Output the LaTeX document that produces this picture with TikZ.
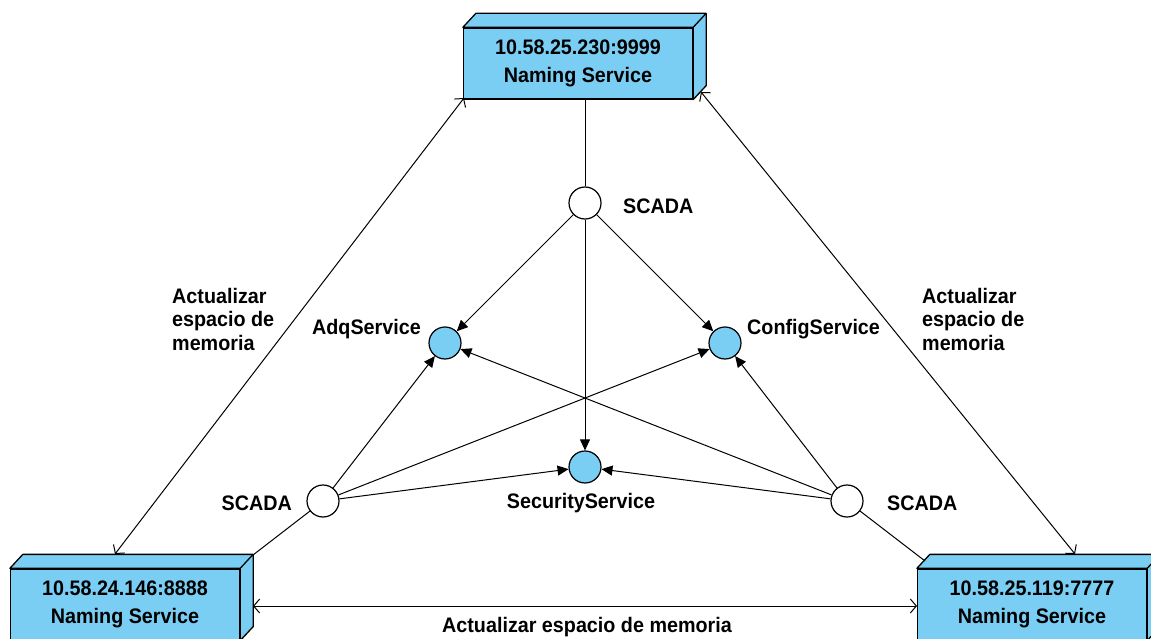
\documentclass[tikz,border=0pt]{standalone}
\usepackage{fontspec}
\setmainfont[FakeStretch=0.94]{Liberation Sans}
\usetikzlibrary{arrows.meta}
\definecolor{boxblue}{RGB}{122,206,244}
\newcommand{\namingbox}[4]{%
  \node[boxface] (#1) at (#2,#3) {#4};
  \draw[boxedge, fill=boxblue] (#1.north west) -- ++(13,-14) -- ([shift={(13,-14)}]#1.north east) -- ([shift={(13,-14)}]#1.south east) -- (#1.south east) -- (#1.north east) -- cycle;
  \draw[boxedge] (#1.north east) -- ++(13,-14);
}
\begin{document}
\begin{tikzpicture}[x=1pt,y=-1pt,
  lbl/.style={font=\fontsize{21}{23.5}\selectfont\bfseries, inner sep=0pt, align=left},
  boxedge/.style={line width=1.3pt, line join=round},
  boxface/.style={draw, boxedge, fill=boxblue, minimum width=229pt, minimum height=71pt, inner sep=0pt, align=center, font=\fontsize{21}{28}\selectfont\bfseries},
  scada/.style={circle, draw, line width=1.2pt, fill=white, minimum size=32pt, inner sep=0pt},
  svc/.style={circle, draw, line width=1.2pt, fill=boxblue, minimum size=32pt, inner sep=0pt},
  call/.style={-{Triangle[length=11pt,width=10pt]}, line width=1pt},
  sync/.style={{Straight Barb[length=6pt,width=14pt]}-{Straight Barb[length=6pt,width=14pt]}, line width=1pt},
  link/.style={line width=1pt}]
\useasboundingbox (0,0) rectangle (1151,639);

\namingbox{top}{578}{63.5}{10.58.25.230:9999\\Naming Service}
\namingbox{lbox}{125}{604.5}{10.58.24.146:8888\\Naming Service}
\namingbox{rbox}{1032}{604.5}{10.58.25.119:7777\\Naming Service}

\node[scada] (sT) at (585,203) {};
\node[scada] (sL) at (323,501) {};
\node[scada] (sR) at (847,501) {};
\node[svc] (adq) at (445,343) {};
\node[svc] (cfg) at (725,343) {};
\node[svc] (sec) at (585,467) {};

\node[lbl, anchor=west] (lT) at (623,206) {SCADA};
\node[lbl, anchor=east] (lL) at (292,503) {SCADA};
\node[lbl, anchor=west] (lR) at (887,503) {SCADA};
\node[lbl, anchor=east] (ladq) at (421,329) {AdqService};
\node[lbl, anchor=west] (lcfg) at (747,329) {ConfigService};
\node[lbl] (lsec) at (581,503) {SecurityService};
\node[lbl, anchor=west] (memL) at (172,319) {Actualizar\\espacio de\\memoria};
\node[lbl, anchor=west] (memR) at (922,319) {Actualizar\\espacio de\\memoria};
\node[lbl] (memB) at (587,627) {Actualizar espacio de memoria};

\coordinate (tSW) at (464,98);
\coordinate (lTopPt) at (115,554);
\coordinate (tRF) at (701,92);
\coordinate (rTopPt) at (1075,554);
\coordinate (lRF) at (253,606);
\coordinate (rLF) at (917,606);
\coordinate (lCorner) at (253,555);
\coordinate (rCorner) at (925,561);

\draw[link] (sT) -- (sT |- top.south);
\draw[link] (sL) -- (lCorner);
\draw[link] (sR) -- (rCorner);

\draw[call] (sT) -- (adq);
\draw[call] (sT) -- (cfg);
\draw[call] (sT) -- (sec);
\draw[call] (sL) -- (adq);
\draw[call] (sL) -- (cfg);
\draw[call] (sL) -- (sec);
\draw[call] (sR) -- (adq);
\draw[call] (sR) -- (cfg);
\draw[call] (sR) -- (sec);

\draw[sync] (tSW) -- (lTopPt);
\draw[sync] (tRF) -- (rTopPt);
\draw[sync] (lRF) -- (rLF);
\end{tikzpicture}
\end{document}
